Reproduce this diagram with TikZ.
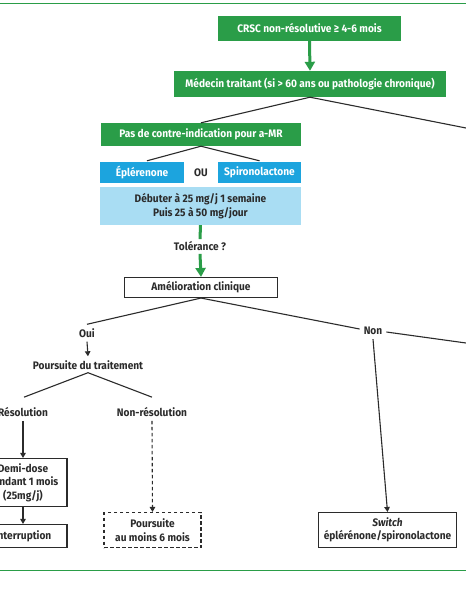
\documentclass[tikz,border=0pt]{standalone}
\usepackage{fontspec}
\setmainfont[FakeStretch=0.93]{Fira Sans}
\usetikzlibrary{arrows.meta}
\definecolor{gr}{HTML}{2A9D48}
\definecolor{cy}{HTML}{1CA4DE}
\definecolor{lb}{HTML}{A9DDF3}
\definecolor{tx}{HTML}{2B2B2B}
\tikzset{
  every node/.style={font=\bfseries\fontsize{10.9}{13.4}\selectfont, text=tx, inner sep=0pt, align=center},
  lbl/.style={inner sep=4pt},
  gbox/.style={fill=gr, text=white, minimum height=#1},
  cbox/.style={fill=cy, text=white, minimum height=21pt},
  wbox/.style={draw=tx, line width=1.1pt, fill=white},
  dbox/.style={draw=tx, line width=1.1pt, dashed, dash pattern=on 3.5pt off 2.5pt},
  conn/.style={draw=tx, line width=1.1pt},
  arr/.style={conn, -{Triangle[width=5.5pt,length=5pt]}},
  garr/.style={draw=gr, line width=3pt, -{Triangle[width=10pt,length=9pt]}},
  gline/.style={draw=gr, line width=3pt},
  rule/.style={draw=gr, line width=1pt}
}
\begin{document}
\begin{tikzpicture}[x=1pt,y=-1pt]
\useasboundingbox (0,0) rectangle (466,600);
\fill[white] (0,0) rectangle (466,600);
\coordinate (tl) at (0,3); \coordinate (tr) at (466,3);
\coordinate (bl) at (0,570); \coordinate (br) at (466,570);
\draw[rule] (tl) -- (tr);
\draw[rule] (bl) -- (br);

\node[gbox=25pt, minimum width=183pt] (crsc) at (309.5,28.5) {CRSC non-résolutive ≥ 4-6 mois};
\node[gbox=26pt, minimum width=272pt] (med) at (310,84) {Médecin traitant (si > 60 ans ou pathologie chronique)};
\node[gbox=23pt, minimum width=200pt] (pas) at (201,134.5) {Pas de contre-indication pour a-MR};
\node[cbox, minimum width=84pt] (eple) at (142,172.5) {Éplérenone};
\node[cbox, minimum width=83pt] (spiro) at (259.5,172.5) {Spironolactone};
\node (ou) at (201,172.5) {OU};
\node[fill=lb, minimum width=201pt, minimum height=38pt] (deb) at (200.5,206) {Débuter à 25 mg/j 1 semaine\\Puis 25 à 50 mg/jour};
\node[inner sep=2.5pt] (tol) at (200,246.5) {Tolérance ?};
\node[wbox, minimum width=153pt, minimum height=20pt] (amel) at (201,287.5) {Amélioration clinique};
\node[lbl] (oui) at (87,333) {Oui};
\node[lbl] (pours) at (88,365) {Poursuite du traitement};
\node[lbl] (reso) at (23,412) {Résolution};
\node[lbl] (nreso) at (152,412) {Non-résolution};
\node[wbox, minimum width=88pt, minimum height=48pt] (demi) at (23,482.5) {Demi-dose\\pendant 1 mois\\(25mg/j)};
\node[wbox, minimum width=88pt, minimum height=23pt] (intr) at (23,536) {Interruption};
\node[dbox, minimum width=97pt, minimum height=35pt] (pours2) at (152.5,530) {Poursuite\\au moins 6 mois};
\node[lbl] (non) at (373,331) {Non};
\node[wbox, minimum width=138pt, minimum height=35pt] (switch) at (387.5,530) {\textit{Switch}\\éplérénone/spironolactone};

\coordinate (medR) at (466,128);
\coordinate (nonR) at (466,343);

\draw[garr] (crsc.south) -- (med.north);
\draw[conn] (med.south) -- (pas.north);
\draw[conn] (med.south) -- (medR);
\draw[conn] (pas.south) -- ([xshift=5pt,yshift=1pt]eple.north);
\draw[conn] (pas.south) -- ([yshift=1pt]spiro.north);
\draw[gline] (deb.south) -- (tol.north);
\draw[garr] (tol.south) -- (amel.north);
\draw[conn] (amel.south) -- (oui.north);
\draw[conn] (amel.south) -- ([yshift=2pt]non.west);
\draw[conn] ([yshift=-1pt]non.east) -- (nonR);
\draw[arr] (oui.south) -- (pours.north);
\draw[conn] ([yshift=1pt]pours.south) -- ([xshift=1pt,yshift=6pt]reso.north);
\draw[conn] ([yshift=1pt]pours.south) -- ([yshift=6pt]nreso.north);
\draw[arr] (reso.south) -- (demi.north);
\draw[arr] (demi.south) -- (intr.north);
\draw[arr, dashed, dash pattern=on 3.5pt off 2.5pt] (nreso.south) -- (pours2.north);
\draw[arr] (non.south) -- (switch.north);
\end{tikzpicture}
\end{document}
